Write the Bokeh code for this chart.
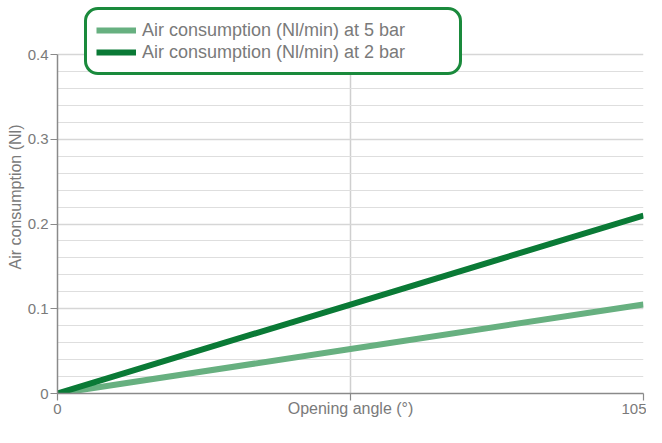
from bokeh.plotting import figure
from bokeh.models import Range1d, FixedTicker, Legend, LegendItem
from bokeh.embed import file_html
from bokeh.resources import INLINE

angle = [0, 52.5, 105]
air_5bar = [0, 0.0525, 0.105]
air_2bar = [0, 0.105, 0.21]
label_5 = "Air consumption (Nl/min) at 5 bar"
label_2 = "Air consumption (Nl/min) at 2 bar"
x_ticks = [0, 52.5, 105]
x_tick_labels = {0: "0", 52.5: "", 105: "105"}
y_ticks = [0, 0.1, 0.2, 0.3, 0.4]
y_minor = [0.02, 0.04, 0.06, 0.08, 0.12, 0.14, 0.16, 0.18, 0.22, 0.24, 0.26, 0.28, 0.32, 0.34, 0.36, 0.38]
y_tick_labels = {0: "0", 0.1: "0.1", 0.2: "0.2", 0.3: "0.3", 0.4: "0.4"}

light = "#67b080"
dark = "#0a7a36"
gray_txt = "#7a7a7a"

Y_MAX = 0.4
Y_TOP = Y_MAX * 393 / 339  # headroom above the plotted area for the legend

p = figure(width=646, height=427, output_backend="svg", toolbar_location=None,
           x_range=Range1d(0, 105), y_range=Range1d(0, Y_TOP),
           min_border_left=57, min_border_right=3, min_border_top=0, min_border_bottom=34)
p.outline_line_color = None
p.background_fill_color = "white"
p.border_fill_color = "white"

r5 = p.line(angle, air_5bar, line_color=light, line_width=6)
r2 = p.line(angle, air_2bar, line_color=dark, line_width=6)

p.xaxis.ticker = FixedTicker(ticks=x_ticks)
p.xaxis.major_label_overrides = x_tick_labels
p.yaxis.ticker = FixedTicker(ticks=y_ticks, minor_ticks=y_minor)
p.yaxis.major_label_overrides = y_tick_labels
p.yaxis.bounds = (0, Y_MAX)
p.xgrid.ticker = FixedTicker(ticks=x_ticks)
p.xgrid.cross_bounds = (0, Y_MAX)
p.ygrid.ticker = FixedTicker(ticks=y_ticks, minor_ticks=y_minor)

for ax in (p.xaxis, p.yaxis):
    ax.axis_line_color = "#8a8a8a"
    ax.axis_line_width = 1.5
    ax.major_tick_line_color = "#8a8a8a"
    ax.major_tick_line_width = 1.2
    ax.major_tick_out = 7
    ax.major_tick_in = 0
    ax.minor_tick_line_color = None
    ax.major_label_text_color = gray_txt
    ax.major_label_text_font = "Liberation Sans"
    ax.major_label_text_font_size = "15px"
    ax.axis_label_text_color = gray_txt
    ax.axis_label_text_font = "Liberation Sans"
    ax.axis_label_text_font_size = "16px"
    ax.axis_label_text_font_style = "normal"

p.xaxis.axis_label = "Opening angle (°)"
p.yaxis.axis_label = "Air consumption (Nl)"
p.xaxis.major_label_standoff = 3
p.yaxis.major_label_standoff = 2
p.xaxis.axis_label_standoff = -17
p.yaxis.axis_label_standoff = 1

p.xgrid.grid_line_color = "#cfcfcf"
p.xgrid.grid_line_width = 1.5
p.ygrid.grid_line_color = "#d6d6d6"
p.ygrid.grid_line_width = 1.5
p.ygrid.minor_grid_line_color = "#dedede"
p.ygrid.minor_grid_line_width = 1

legend = Legend(items=[LegendItem(label=label_5, renderers=[r5]),
                       LegendItem(label=label_2, renderers=[r2])],
                location=(27, 318))
legend.border_line_color = "#1a8a3c"
legend.border_line_alpha = 1
legend.border_line_width = 3
legend.border_radius = 14
legend.background_fill_color = "white"
legend.background_fill_alpha = 1
legend.label_text_font = "Liberation Sans"
legend.label_text_font_size = "18px"
legend.label_text_color = gray_txt
legend.glyph_width = 40
legend.glyph_height = 22
legend.label_height = 22
legend.label_width = 308
legend.spacing = 0
legend.padding = 9
legend.margin = 0
legend.label_standoff = 6
p.add_layout(legend, "center")

open("out.html", "w").write(file_html(p, INLINE))
